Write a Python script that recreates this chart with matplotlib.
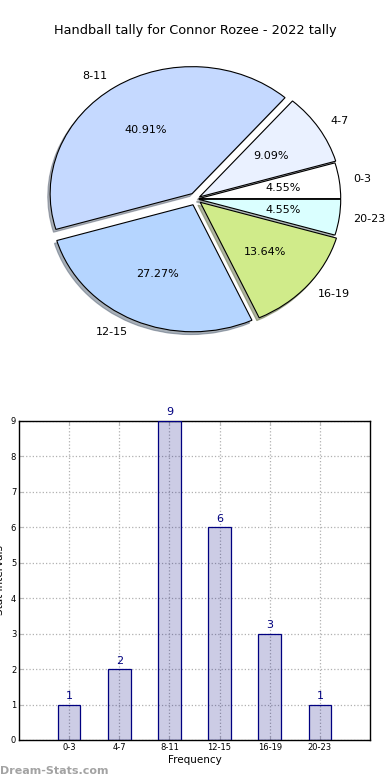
import matplotlib
matplotlib.use("Agg")
import matplotlib.pyplot as plt

categories = ["0-3", "4-7", "8-11", "12-15", "16-19", "20-23"]
counts = [1, 2, 9, 6, 3, 1]
pie_colors = ["#FFFFFF", "#EAF1FF", "#C5D9FF", "#B5D5FF", "#D0EB8A", "#DAFFFF"]
explode = [0.02, 0.03, 0.05, 0.05, 0.04, 0.02]
title = "Handball tally for Connor Rozee - 2022 tally"
yticks = list(range(10))

fig = plt.figure(figsize=(3.9, 7.8), dpi=100)

ax1 = fig.add_axes([0.0474, 0.5414, 0.910, 0.407])
wedges, texts, autotexts = ax1.pie(
    counts, labels=categories, colors=pie_colors, explode=explode,
    autopct="%1.2f%%", shadow={"ox": -0.012, "oy": -0.016, "shade": 0.55},
    startangle=0,
    wedgeprops=dict(edgecolor="black", linewidth=0.8),
    textprops=dict(fontsize=8))
ax1.set_aspect("auto")
ax1.set_xlim(-1.25, 1.25)
ax1.set_ylim(-1.25, 1.25)
fig.text(0.5, 0.961, title, ha="center", va="center", fontsize=9.3)

ax2 = fig.add_axes([0.0487, 0.0513, 0.9, 0.409])
x = list(range(len(categories)))
bars = ax2.bar(x, counts, width=0.45, color="navy", alpha=0.2, zorder=2)
ax2.bar(x, counts, width=0.45, facecolor="none", edgecolor="navy",
        linewidth=0.9, zorder=3)
for xi, c in zip(x, counts):
    ax2.text(xi, c + 0.1, str(c), ha="center", va="bottom", fontsize=8,
             color="navy")
ax2.set_xlim(-1, 6)
ax2.set_ylim(0, 9)
ax2.set_xticks(x)
ax2.set_xticklabels(categories)
ax2.set_yticks(yticks)
ax2.tick_params(labelsize=6, direction="in", length=3, color="#bbbbbb",
                top=True, right=True, pad=2)
ax2.grid(True, linestyle=":", color="#b0b0b0", linewidth=0.9, zorder=0)
ax2.set_axisbelow(True)
for s in ax2.spines.values():
    s.set_linewidth(1.0)
ax2.set_xlabel("Frequency", fontsize=7.5, labelpad=2)
ax2.set_ylabel("Stat Intervals", fontsize=7.5, labelpad=4)

fig.text(0.0, 0.005, "Dream-Stats.com", fontsize=8, color="#999999",
         fontweight="bold", ha="left", va="bottom", alpha=0.9)

fig.savefig("out.png", dpi=100)
